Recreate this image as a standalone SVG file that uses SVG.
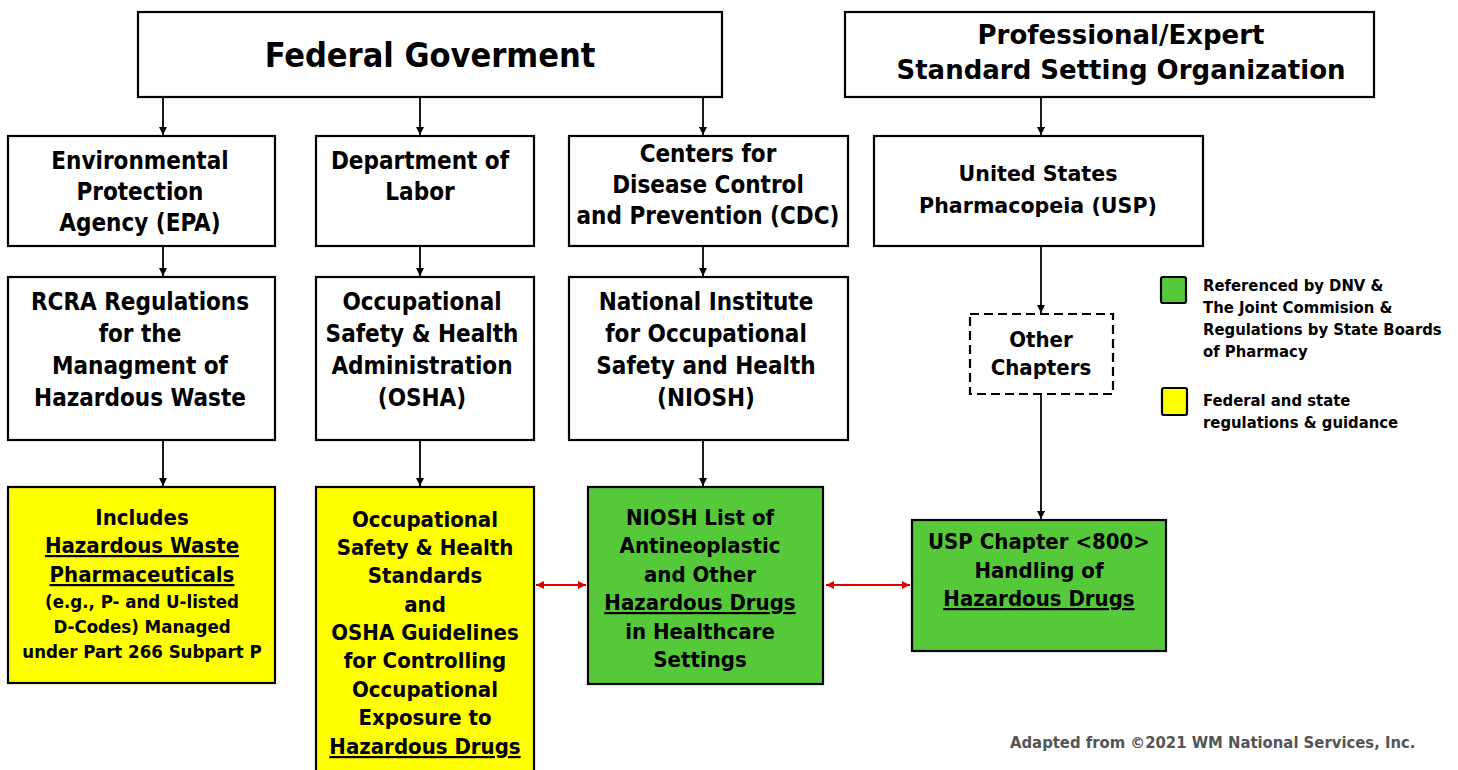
<svg xmlns="http://www.w3.org/2000/svg" width="1458" height="770" viewBox="0 0 1458 770">
<style>
  text { font-family: "DejaVu Sans Condensed", "DejaVu Sans", sans-serif; font-stretch: condensed; font-weight: bold; fill: #000; }
  .c { text-anchor: middle; }
  .box { fill: #fff; stroke: #000; stroke-width: 2.2; }
  .yel { fill: #ffff00; stroke: #000; stroke-width: 2.2; }
  .grn { fill: #56c93a; stroke: #000; stroke-width: 2.2; }
  .dash { fill: #fff; stroke: #000; stroke-width: 2.2; stroke-dasharray: 9 5; }
  .t24 { font-size: 24px; }
  .t22 { font-size: 22px; }
  .t18 { font-size: 18.5px; }
  .wide { font-family: "DejaVu Sans", sans-serif; font-stretch: normal; }
  .leg { font-size: 16.5px; }
  .u { text-decoration: underline; }
  .con { stroke: #000; stroke-width: 1.8; fill: none; marker-end: url(#ah); }
  .red { stroke: #e00000; stroke-width: 2; fill: none; marker-start: url(#rh); marker-end: url(#rh); }
</style>
<defs>
  <marker id="ah" viewBox="0 0 10 10" refX="10" refY="5" markerWidth="8" markerHeight="8" markerUnits="userSpaceOnUse" orient="auto">
    <path d="M0,0 L10,5 L0,10 z" fill="#000"/>
  </marker>
  <marker id="rh" viewBox="0 0 10 10" refX="10" refY="5" markerWidth="8" markerHeight="8" markerUnits="userSpaceOnUse" orient="auto-start-reverse">
    <path d="M0,0 L10,5 L0,10 z" fill="#e00000"/>
  </marker>
</defs>
<rect width="1458" height="770" fill="#fff"/>

<g id="connectors">
  <line class="con" x1="163" y1="97" x2="163" y2="135"/>
  <line class="con" x1="420" y1="97" x2="420" y2="135"/>
  <line class="con" x1="703" y1="97" x2="703" y2="135"/>
  <line class="con" x1="1041" y1="97" x2="1041" y2="135"/>
  <line class="con" x1="163" y1="246" x2="163" y2="276"/>
  <line class="con" x1="420" y1="246" x2="420" y2="276"/>
  <line class="con" x1="703" y1="246" x2="703" y2="276"/>
  <line class="con" x1="163" y1="440" x2="163" y2="486"/>
  <line class="con" x1="420" y1="440" x2="420" y2="486"/>
  <line class="con" x1="703" y1="440" x2="703" y2="486"/>
  <line class="con" x1="1041" y1="246" x2="1041" y2="313"/>
  <line class="con" x1="1041" y1="394" x2="1041" y2="519"/>
  <line class="red" x1="536" y1="585" x2="586" y2="585"/>
  <line class="red" x1="826" y1="585" x2="910" y2="585"/>
</g>

<g id="federal">
  <rect class="box" x="138" y="12" width="584" height="85"/>
  <text class="c" x="430" y="67" style="font-size:34px">Federal Goverment</text>
</g>

<g id="professional">
  <rect class="box" x="845" y="12" width="529" height="85"/>
  <text class="c wide" x="1121" y="44" style="font-size:26px">Professional/Expert</text>
  <text class="c wide" x="1121" y="79" style="font-size:26px">Standard Setting Organization</text>
</g>

<g id="epa">
  <rect class="box" x="8" y="136" width="267" height="110"/>
  <text class="c t24" x="140" y="169">Environmental</text>
  <text class="c t24" x="140" y="200">Protection</text>
  <text class="c t24" x="140" y="231">Agency (EPA)</text>
</g>

<g id="dol">
  <rect class="box" x="316" y="136" width="218" height="110"/>
  <text class="c t24" x="420" y="169">Department of</text>
  <text class="c t24" x="420" y="200">Labor</text>
</g>

<g id="cdc">
  <rect class="box" x="569" y="136" width="279" height="110"/>
  <text class="c t24" x="708" y="162">Centers for</text>
  <text class="c t24" x="708" y="193">Disease Control</text>
  <text class="c t24" x="708" y="224">and Prevention (CDC)</text>
</g>

<g id="usp">
  <rect class="box" x="874" y="136" width="329" height="110"/>
  <text class="c wide" x="1038" y="181" style="font-size:20.6px">United States</text>
  <text class="c wide" x="1038" y="213" style="font-size:20.6px">Pharmacopeia (USP)</text>
</g>

<g id="rcra">
  <rect class="box" x="8" y="277" width="267" height="163"/>
  <text class="c t24" x="140" y="310">RCRA Regulations</text>
  <text class="c t24" x="140" y="342">for the</text>
  <text class="c t24" x="140" y="374">Managment of</text>
  <text class="c t24" x="140" y="406">Hazardous Waste</text>
</g>

<g id="osha">
  <rect class="box" x="316" y="277" width="218" height="163"/>
  <text class="c t24" x="422" y="310">Occupational</text>
  <text class="c t24" x="422" y="342">Safety &amp; Health</text>
  <text class="c t24" x="422" y="374">Administration</text>
  <text class="c t24" x="422" y="406">(OSHA)</text>
</g>

<g id="niosh">
  <rect class="box" x="569" y="277" width="279" height="163"/>
  <text class="c t24" x="706" y="310">National Institute</text>
  <text class="c t24" x="706" y="342">for Occupational</text>
  <text class="c t24" x="706" y="374">Safety and Health</text>
  <text class="c t24" x="706" y="406">(NIOSH)</text>
</g>

<g id="other-chapters">
  <rect class="dash" x="970" y="314" width="143" height="80"/>
  <text class="c t22" x="1041" y="347">Other</text>
  <text class="c t22" x="1041" y="375">Chapters</text>
</g>

<g id="hw-pharma">
  <rect class="yel" x="8" y="487" width="267" height="196"/>
  <text class="c t22" x="142" y="525">Includes</text>
  <text class="c t22 u" x="142" y="553">Hazardous Waste</text>
  <text class="c t22 u" x="142" y="582">Pharmaceuticals</text>
  <text class="c t18" x="142" y="608">(e.g., P- and U-listed</text>
  <text class="c t18" x="142" y="633">D-Codes) Managed</text>
  <text class="c t18" x="142" y="658">under Part 266 Subpart P</text>
</g>

<g id="osha-standards">
  <rect class="yel" x="316" y="487" width="218" height="290"/>
  <text class="c t22" x="425" y="527">Occupational</text>
  <text class="c t22" x="425" y="555">Safety &amp; Health</text>
  <text class="c t22" x="425" y="583">Standards</text>
  <text class="c t22" x="425" y="612">and</text>
  <text class="c t22" x="425" y="640">OSHA Guidelines</text>
  <text class="c t22" x="425" y="668">for Controlling</text>
  <text class="c t22" x="425" y="697">Occupational</text>
  <text class="c t22" x="425" y="725">Exposure to</text>
  <text class="c t22 u" x="425" y="754">Hazardous Drugs</text>
</g>

<g id="niosh-list">
  <rect class="grn" x="588" y="487" width="235" height="197"/>
  <text class="c t22" x="700" y="525">NIOSH List of</text>
  <text class="c t22" x="700" y="553">Antineoplastic</text>
  <text class="c t22" x="700" y="582">and Other</text>
  <text class="c t22 u" x="700" y="610">Hazardous Drugs</text>
  <text class="c t22" x="700" y="639">in Healthcare</text>
  <text class="c t22" x="700" y="667">Settings</text>
</g>

<g id="usp-800">
  <rect class="grn" x="912" y="520" width="254" height="131"/>
  <text class="c t22" x="1039" y="549">USP Chapter &lt;800&gt;</text>
  <text class="c t22" x="1039" y="578">Handling of</text>
  <text class="c t22 u" x="1039" y="606">Hazardous Drugs</text>
</g>

<g id="legend">
  <rect class="grn" x="1161" y="277" width="25" height="26" rx="2"/>
  <text class="leg" x="1203" y="291">Referenced by DNV &amp;</text>
  <text class="leg" x="1203" y="313">The Joint Commision &amp;</text>
  <text class="leg" x="1203" y="335">Regulations by State Boards</text>
  <text class="leg" x="1203" y="357">of Pharmacy</text>
  <rect class="yel" x="1162" y="388" width="25" height="27" rx="2"/>
  <text class="leg" x="1203" y="406">Federal and state</text>
  <text class="leg" x="1203" y="428">regulations &amp; guidance</text>
</g>

<g id="footer">
  <text x="1010" y="748" style="font-size:16.5px;fill:#555">Adapted from ©2021 WM National Services, Inc.</text>
</g>
</svg>
